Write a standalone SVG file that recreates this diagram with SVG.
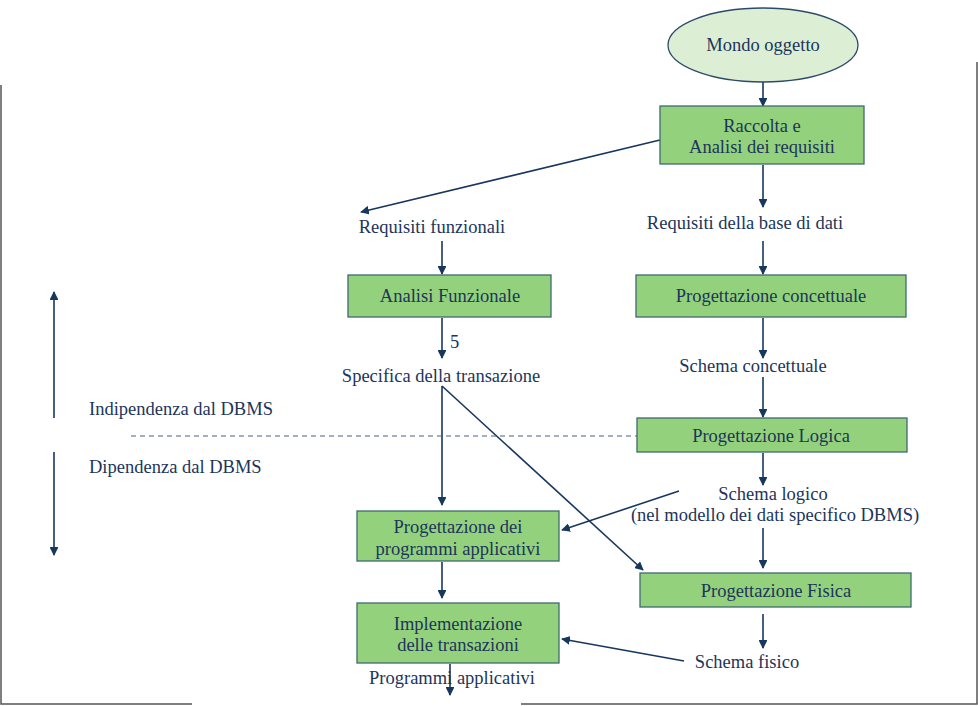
<svg xmlns="http://www.w3.org/2000/svg" width="978" height="706" viewBox="0 0 978 706">
<style>
  text { font-family: "Liberation Serif", "DejaVu Serif", serif; font-size: 18.5px; fill: #1c355a; }
  .c { text-anchor: middle; }
  .box { fill: #93d17c; stroke: #3e6b6e; stroke-width: 1.3; }
  .ell { fill: #dcefd5; stroke: #2c4a6a; stroke-width: 1.3; }
  .ln { stroke: #17375e; stroke-width: 1.6; fill: none; }
  .arr { stroke: #17375e; stroke-width: 1.6; fill: none; marker-end: url(#ah); }
  .dash { stroke: #4a5f7a; stroke-width: 1.2; stroke-dasharray: 5 4; fill: none; }
  .frame { stroke: #555; stroke-width: 1.5; fill: none; }
</style>
<defs>
  <marker id="ah" viewBox="0 0 10 10" refX="9" refY="5" markerWidth="5.5" markerHeight="5.5" orient="auto" markerUnits="strokeWidth">
    <path d="M0,0 L10,5 L0,10 z" fill="#17375e"/>
  </marker>
</defs>
<rect width="978" height="706" fill="#fff"/>
<g id="frame">
  <path class="frame" d="M1,85 V704 H192"/>
  <path class="frame" d="M521,704 H977 V62"/>
</g>
<g id="connectors">
  <line class="arr" x1="763" y1="82" x2="763" y2="106"/>
  <line class="arr" x1="763" y1="165" x2="763" y2="207"/>
  <line class="arr" x1="660" y1="140" x2="361" y2="212"/>
  <line class="arr" x1="442" y1="241" x2="442" y2="274"/>
  <line class="arr" x1="763" y1="241" x2="763" y2="274"/>
  <line class="arr" x1="442" y1="318" x2="442" y2="358"/>
  <line class="arr" x1="763" y1="318" x2="763" y2="358"/>
  <line class="arr" x1="763" y1="377" x2="763" y2="417"/>
  <line class="arr" x1="763" y1="453" x2="763" y2="485"/>
  <line class="arr" x1="442" y1="386" x2="442" y2="505"/>
  <line class="arr" x1="442" y1="386" x2="643" y2="570"/>
  <line class="arr" x1="679" y1="491" x2="562" y2="530"/>
  <line class="arr" x1="763" y1="528" x2="763" y2="568"/>
  <line class="arr" x1="442" y1="562" x2="442" y2="598"/>
  <line class="arr" x1="763" y1="614" x2="763" y2="648"/>
  <line class="arr" x1="684" y1="661" x2="562" y2="639"/>
  <line class="arr" x1="450" y1="664" x2="450" y2="695"/>
  <line class="arr" x1="54" y1="418" x2="54" y2="292"/>
  <line class="arr" x1="54" y1="452" x2="54" y2="555"/>
  <line class="dash" x1="131" y1="436" x2="637" y2="436"/>
</g>
<g id="mondo">
  <ellipse class="ell" cx="763" cy="45" rx="95" ry="37"/>
  <text class="c" x="763" y="51">Mondo oggetto</text>
</g>
<g id="raccolta">
  <rect class="box" x="660" y="106" width="204" height="58"/>
  <text class="c" x="762" y="132">Raccolta e</text>
  <text class="c" x="762" y="153">Analisi dei requisiti</text>
</g>
<g id="req-funz"><text class="c" x="432" y="233">Requisiti funzionali</text></g>
<g id="req-base"><text class="c" x="745" y="229">Requisiti della base di dati</text></g>
<g id="analisi-funz">
  <rect class="box" x="348" y="275" width="203" height="42"/>
  <text class="c" x="450" y="302">Analisi Funzionale</text>
</g>
<g id="prog-conc">
  <rect class="box" x="636" y="275" width="270" height="42"/>
  <text class="c" x="771" y="302">Progettazione concettuale</text>
</g>
<g id="label-5"><text x="450" y="348">5</text></g>
<g id="specifica"><text class="c" x="441" y="382">Specifica della transazione</text></g>
<g id="schema-conc"><text class="c" x="753" y="372">Schema concettuale</text></g>
<g id="prog-log">
  <rect class="box" x="637" y="418" width="270" height="34"/>
  <text class="c" x="771" y="442">Progettazione Logica</text>
</g>
<g id="indip"><text x="89" y="415">Indipendenza dal DBMS</text></g>
<g id="dip"><text x="89" y="473">Dipendenza dal DBMS</text></g>
<g id="schema-log">
  <text class="c" x="773" y="500">Schema logico</text>
  <text class="c" x="775" y="521">(nel modello dei dati specifico DBMS)</text>
</g>
<g id="prog-prog">
  <rect class="box" x="357" y="511" width="202" height="50"/>
  <text class="c" x="458" y="533">Progettazione dei</text>
  <text class="c" x="458" y="555">programmi applicativi</text>
</g>
<g id="prog-fis">
  <rect class="box" x="640" y="573" width="271" height="34"/>
  <text class="c" x="776" y="597">Progettazione Fisica</text>
</g>
<g id="impl">
  <rect class="box" x="357" y="603" width="202" height="60"/>
  <text class="c" x="458" y="630">Implementazione</text>
  <text class="c" x="458" y="651">delle transazioni</text>
</g>
<g id="schema-fis"><text class="c" x="747" y="668">Schema fisico</text></g>
<g id="prog-appl"><text class="c" x="452" y="684">Programmi applicativi</text></g>
</svg>
